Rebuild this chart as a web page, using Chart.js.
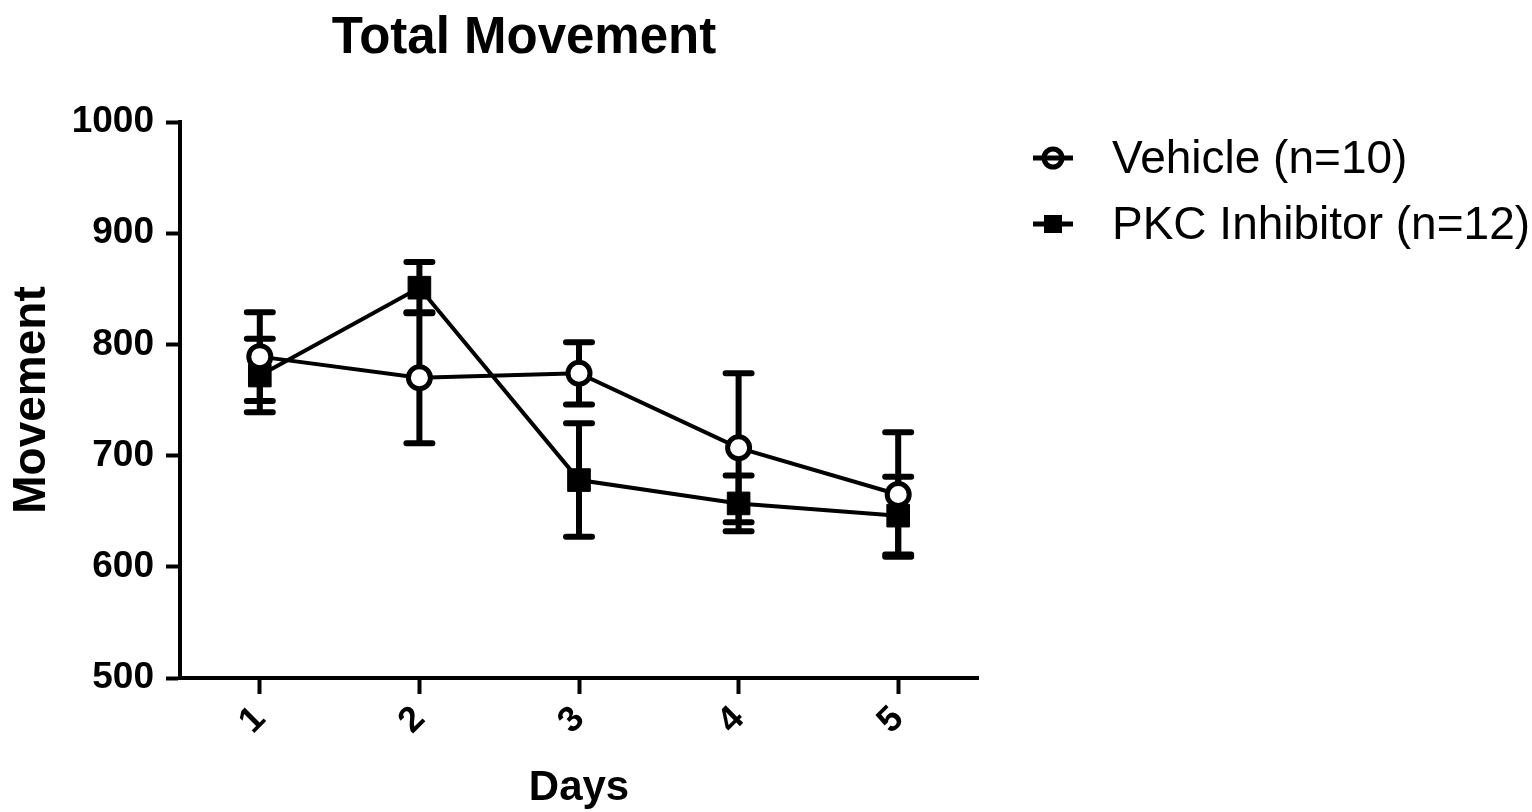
<!DOCTYPE html>
<html>
<head>
<meta charset="utf-8">
<title>Total Movement</title>
<script src="https://cdn.jsdelivr.net/npm/chart.js@4.4.1/dist/chart.umd.min.js"></script>
<style>
  html, body { margin: 0; padding: 0; background: #fff; }
  canvas { display: block; }
</style>
</head>
<body>
<canvas id="movementChart" width="1532" height="812"></canvas>
<script>
// Données
const days = ['1', '2', '3', '4', '5'];
const vehicleLabel = 'Vehicle (n=10)';
const vehicleMean = [789, 770, 774, 707, 665];
const vehicleErr = [40, 59, 28, 67, 56];
const pkcLabel = 'PKC Inhibitor (n=12)';
const pkcMean = [772, 851, 678, 657, 646];
const pkcErr = [33, 23, 51, 25, 35];
const yMin = 500;
const yMax = 1000;
const yStep = 100;
const chartTitle = 'Total Movement';
const xTitle = 'Days';
const yTitle = 'Movement';

const FONT = "'Liberation Sans', Arial, sans-serif";

// Barres d'erreur dessinées avant les points
const errorBars = {
    id: 'errorBars',
    beforeDatasetsDraw(chart) {
        const ctx = chart.ctx;
        const x = chart.scales.x;
        const y = chart.scales.y;
        const errs = [vehicleErr, pkcErr];
        ctx.save();
        ctx.strokeStyle = '#000';
        ctx.lineWidth = 6;
        ctx.lineCap = 'round';
        chart.data.datasets.forEach((ds, d) => {
            ds.data.forEach((v, i) => {
                const px = x.getPixelForValue(i);
                const top = y.getPixelForValue(v + errs[d][i]);
                const bot = y.getPixelForValue(v - errs[d][i]);
                ctx.beginPath();
                ctx.moveTo(px, top);
                ctx.lineTo(px, bot);
                ctx.moveTo(px - 13, top);
                ctx.lineTo(px + 13, top);
                ctx.moveTo(px - 13, bot);
                ctx.lineTo(px + 13, bot);
                ctx.stroke();
            });
        });
        ctx.restore();
    }
};

// Titre et légende dessinés à la main
const decorations = {
    id: 'decorations',
    afterDraw(chart) {
        const ctx = chart.ctx;
        ctx.save();
        ctx.fillStyle = '#000';
        ctx.font = 'bold 51px ' + FONT;
        ctx.textAlign = 'center';
        ctx.textBaseline = 'alphabetic';
        ctx.fillText(chartTitle, 524, 53);

        const rows = [
            { label: vehicleLabel, y: 158, style: 'circle' },
            { label: pkcLabel, y: 224, style: 'rect' }
        ];
        rows.forEach(r => {
            ctx.strokeStyle = '#000';
            ctx.lineWidth = 5;
            ctx.beginPath();
            ctx.moveTo(1033, r.y);
            ctx.lineTo(1073, r.y);
            ctx.stroke();
            if (r.style === 'circle') {
                ctx.fillStyle = '#fff';
                ctx.beginPath();
                ctx.arc(1053, r.y, 9, 0, Math.PI * 2);
                ctx.fill();
                ctx.stroke();
                ctx.beginPath();
                ctx.moveTo(1045, r.y);
                ctx.lineTo(1061, r.y);
                ctx.stroke();
            } else {
                ctx.fillStyle = '#000';
                ctx.fillRect(1044, r.y - 9, 18, 18);
            }
            ctx.fillStyle = '#000';
            ctx.font = '46px ' + FONT;
            ctx.textAlign = 'left';
            ctx.textBaseline = 'middle';
            ctx.fillText(r.label, 1112, r.y + 2);
        });
        ctx.restore();
    }
};

const ctx = document.getElementById('movementChart').getContext('2d');
const movementChart = new Chart(ctx, {
    type: 'line',
    data: {
        labels: days,
        datasets: [
            {
                label: vehicleLabel,
                data: vehicleMean,
                borderColor: '#000',
                borderWidth: 4,
                backgroundColor: '#fff',
                pointStyle: 'circle',
                pointRadius: 11,
                pointBorderWidth: 5,
                pointBackgroundColor: '#fff',
                pointBorderColor: '#000',
                tension: 0,
                fill: false
            },
            {
                label: pkcLabel,
                data: pkcMean,
                borderColor: '#000',
                borderWidth: 4,
                backgroundColor: '#000',
                pointStyle: 'rect',
                pointRadius: 16,
                pointBorderWidth: 1,
                pointBackgroundColor: '#000',
                pointBorderColor: '#000',
                tension: 0,
                fill: false
            }
        ]
    },
    options: {
        responsive: false,
        animation: false,
        layout: { padding: { left: 0, top: 122, right: 554, bottom: 0 } },
        plugins: {
            legend: { display: false },
            title: { display: false },
            tooltip: { enabled: false }
        },
        scales: {
            x: {
                type: 'category',
                offset: true,
                afterFit: scale => { scale.height = 134; },
                border: { display: true, color: '#000', width: 4 },
                grid: {
                    display: true,
                    drawOnChartArea: false,
                    drawTicks: true,
                    tickLength: 16,
                    tickWidth: 4,
                    color: '#000',
                    offset: false
                },
                ticks: {
                    color: '#000',
                    font: { family: FONT, size: 36, weight: 'bold' },
                    minRotation: 45,
                    maxRotation: 45,
                    padding: 4
                },
                title: {
                    display: true,
                    text: xTitle,
                    color: '#000',
                    font: { family: FONT, size: 42, weight: 'bold' },
                    padding: { top: 0, bottom: -2 }
                }
            },
            y: {
                min: yMin,
                max: yMax,
                afterFit: scale => { scale.width = 180; },
                border: { display: true, color: '#000', width: 4 },
                grid: {
                    display: true,
                    drawOnChartArea: false,
                    drawTicks: true,
                    tickLength: 14,
                    tickWidth: 4,
                    color: '#000'
                },
                ticks: {
                    stepSize: yStep,
                    color: '#000',
                    font: { family: FONT, size: 37, weight: 'bold' },
                    padding: 12,
                    callback: value => String(value)
                },
                title: {
                    display: true,
                    text: yTitle,
                    color: '#000',
                    font: { family: FONT, size: 46, weight: 'bold' },
                    padding: { top: 5, bottom: 0 }
                }
            }
        }
    },
    plugins: [errorBars, decorations]
});
</script>
</body>
</html>
